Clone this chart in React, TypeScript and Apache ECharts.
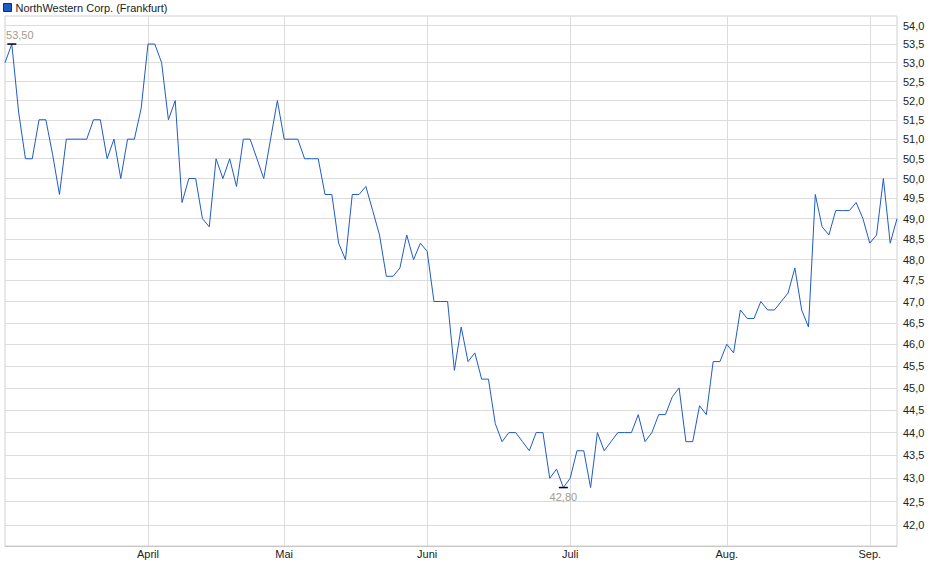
import { useEffect, useRef } from "react";
import * as echarts from "echarts";

// Handelstage 2025 (Frankfurt)
const marchDays = [3, 4, 5, 6, 7, 10, 11, 12, 13, 14, 17, 18, 19, 20, 21, 24, 25, 26, 27, 28, 31];
const aprilDays = [1, 2, 3, 4, 7, 8, 9, 10, 11, 14, 15, 16, 17, 22, 23, 24, 25, 28, 29, 30];
const mayDays = [2, 5, 6, 7, 8, 9, 12, 13, 14, 15, 16, 19, 20, 21, 22, 23, 26, 27, 28, 29, 30];
const juneDays = [2, 3, 4, 5, 6, 9, 10, 11, 12, 13, 16, 17, 18, 19, 20, 23, 24, 25, 26, 27, 30];
const julyDays = [1, 2, 3, 4, 7, 8, 9, 10, 11, 14, 15, 16, 17, 18, 21, 22, 23, 24, 25, 28, 29, 30, 31];
const augustDays = [1, 4, 5, 6, 7, 8, 11, 12, 13, 14, 15, 18, 19, 20, 21, 22, 25, 26, 27, 28, 29];
const septemberDays = [1, 2, 3, 4, 5];

const tradingDays = [
  { month: "03", days: marchDays },
  { month: "04", days: aprilDays },
  { month: "05", days: mayDays },
  { month: "06", days: juneDays },
  { month: "07", days: julyDays },
  { month: "08", days: augustDays },
  { month: "09", days: septemberDays },
];

const categories = tradingDays.flatMap(({ month, days }) =>
  days.map((d) => `2025-${month}-${String(d).padStart(2, "0")}`)
);

const prices = [
  53.0, 53.5, 51.7, 50.5, 50.5, 51.5, 51.5, 50.6, 49.6, 51.0,
  51.0, 51.0, 51.0, 51.5, 51.5, 50.5, 51.0, 50.0, 51.0, 51.0,
  51.8, 53.5, 53.5, 53.0, 51.5, 52.0, 49.4, 50.0, 50.0, 49.0,
  48.8, 50.5, 50.0, 50.5, 49.8, 51.0, 51.0, 50.5, 50.0, 51.0,
  52.0, 51.0, 51.0, 51.0, 50.5, 50.5, 50.5, 49.6, 49.6, 48.4,
  48.0, 49.6, 49.6, 49.8, 49.2, 48.6, 47.6, 47.6, 47.8, 48.6,
  48.0, 48.4, 48.2, 47.0, 47.0, 47.0, 45.4, 46.4, 45.6, 45.8,
  45.2, 45.2, 44.2, 43.8, 44.0, 44.0, 43.8, 43.6, 44.0, 44.0,
  43.0, 43.2, 42.8, 43.0, 43.6, 43.6, 42.8, 44.0, 43.6, 43.8,
  44.0, 44.0, 44.0, 44.4, 43.8, 44.0, 44.4, 44.4, 44.8, 45.0,
  43.8, 43.8, 44.6, 44.4, 45.6, 45.6, 46.0, 45.8, 46.8, 46.6,
  46.6, 47.0, 46.8, 46.8, 47.0, 47.2, 47.8, 46.8, 46.4, 49.6,
  48.8, 48.6, 49.2, 49.2, 49.2, 49.4, 49.0, 48.4, 48.6, 50.0,
  48.4, 49.0,
];

const yTicks = [
  42.0, 42.5, 43.0, 43.5, 44.0, 44.5, 45.0, 45.5, 46.0, 46.5, 47.0, 47.5,
  48.0, 48.5, 49.0, 49.5, 50.0, 50.5, 51.0, 51.5, 52.0, 52.5, 53.0, 53.5, 54.0,
];

const monthNames: Record<string, string> = {
  "04": "April",
  "05": "Mai",
  "06": "Juni",
  "07": "Juli",
  "08": "Aug.",
  "09": "Sep.",
};

const SERIES_NAME = "NorthWestern Corp. (Frankfurt)";
const LINE_COLOR = "#1f5bc6";
const GRID_COLOR = "#dcdcdc";
const TEXT_COLOR = "#222";

const isMonthStart = (index: number) =>
  index > 0 && categories[index].slice(5, 7) !== categories[index - 1].slice(5, 7);

const fmt = (v: number, digits: number) => v.toFixed(digits).replace(".", ",");

const PriceChart = () => {
  const chartRef = useRef<HTMLDivElement>(null);

  useEffect(() => {
    if (!chartRef.current) return;

    const chart = echarts.init(chartRef.current, undefined, { renderer: "svg" });

    const option: echarts.EChartsOption = {
      animation: false,
      textStyle: {
        fontFamily: "'Liberation Sans', Arial, sans-serif",
      },
      legend: {
        data: [SERIES_NAME],
        left: 3,
        top: 2,
        padding: 0,
        icon: "rect",
        itemWidth: 8,
        itemHeight: 8,
        selectedMode: false,
        itemStyle: {
          color: LINE_COLOR,
          borderColor: "#0b2f73",
          borderWidth: 1,
        },
        textStyle: {
          fontSize: 11,
          color: TEXT_COLOR,
          padding: [0, 0, 0, -1],
        },
      },
      grid: {
        left: 5,
        right: 43,
        top: 16,
        bottom: 33,
        show: true,
        borderColor: "#d0d0d0",
        borderWidth: 1,
      },
      xAxis: {
        type: "category",
        data: categories,
        boundaryGap: false,
        axisLine: {
          lineStyle: {
            color: "#c8c8c8",
          },
        },
        axisTick: {
          show: false,
        },
        axisLabel: {
          interval: (index: number) => isMonthStart(index),
          formatter: (value: string) => monthNames[value.slice(5, 7)] ?? "",
          color: TEXT_COLOR,
          fontSize: 11,
          margin: 2,
        },
        splitLine: {
          show: true,
          interval: (index: number) => isMonthStart(index),
          lineStyle: {
            color: GRID_COLOR,
          },
        },
      },
      yAxis: {
        type: "log",
        min: 41.56,
        max: 54.26,
        show: false,
      },
      series: [
        {
          name: SERIES_NAME,
          type: "line",
          data: prices,
          symbol: "none",
          showSymbol: false,
          z: 3,
          itemStyle: {
            color: LINE_COLOR,
          },
          lineStyle: {
            color: LINE_COLOR,
            width: 1,
          },
          // Gitternetz + Achsbeschriftung rechts
          markLine: {
            z: 1,
            silent: true,
            symbol: ["none", "none"],
            animation: false,
            lineStyle: {
              color: GRID_COLOR,
              type: "solid",
              width: 1,
            },
            label: {
              show: true,
              position: "end",
              distance: 6,
              color: TEXT_COLOR,
              fontSize: 11,
              formatter: (p: any) => fmt(Number(p.value), 1),
            },
            emphasis: {
              disabled: true,
            },
            data: yTicks.map((v) => ({ yAxis: v })),
          },
          // Hoch / Tief
          markPoint: {
            silent: true,
            symbol: "rect",
            symbolSize: [9, 1.5],
            itemStyle: {
              color: "#000",
            },
            label: {
              show: true,
              color: "#a39b91",
              fontSize: 11,
              distance: 3,
              formatter: (p: any) => fmt(Number(p.value), 2),
            },
            data: [
              { type: "max", label: { position: "top", offset: [8, 0] } },
              { type: "min", label: { position: "bottom" } },
            ],
          },
        },
      ],
    };

    chart.setOption(option);

    return () => {
      chart.dispose();
    };
  }, []);

  return (
    <div
      ref={chartRef}
      style={{ position: "absolute", left: 0, top: 0, width: "940px", height: "579px", background: "#fff" }}
    />
  );
};

export default function App() {
  return <PriceChart />;
}
